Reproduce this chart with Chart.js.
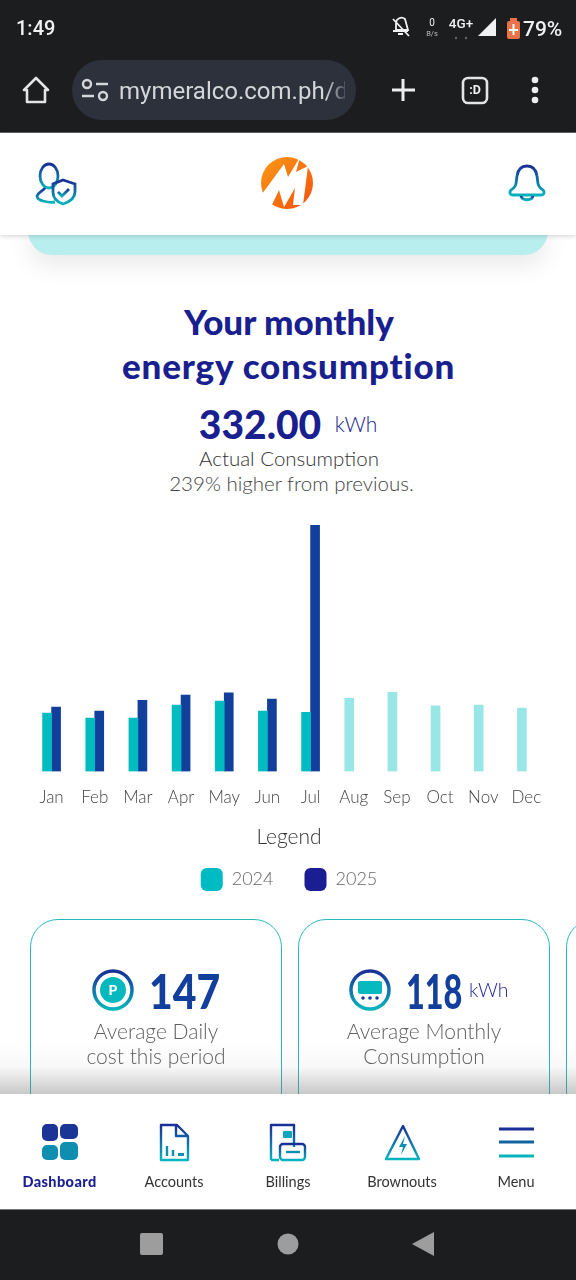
<!DOCTYPE html>
<html>
<head>
<meta charset="utf-8">
<title>Your monthly energy consumption</title>
<script src="https://cdn.jsdelivr.net/npm/chart.js@4"></script>
<style>
html, body { margin: 0; padding: 0; background: #fff; }
body { position: relative; width: 576px; height: 1280px; overflow: hidden; font-family: Lato, sans-serif; }
.box { position: absolute; }
.t { position: absolute; white-space: nowrap; transform: translate(-50%, -50%); line-height: 1; }
.l { position: absolute; white-space: nowrap; transform: translateY(-50%); line-height: 1; }
.sys { font-family: Roboto, sans-serif; color: #f1f1f1; }
svg { position: absolute; overflow: visible; }
#chartWrap { position: absolute; left: 0; top: 510px; width: 576px; height: 391px; }
.navlabel { font-size: 14.5px; color: #333; }
.card { position: absolute; top: 919px; width: 250px; height: 200px; border: 1.5px solid #25b8bd; border-radius: 28px; box-sizing: content-box; }
.big { font-weight: 900; font-size: 47px; color: #123f9b; transform-origin: left center; }
.sub { font-size: 21px; font-weight: 300; color: #5f5f5f; }
</style>
</head>
<body>

<!-- page, under the bars -->
<div class="box" style="left:28px;top:225px;width:520px;height:30px;background:#b9eeee;border-radius:0 0 24px 24px;box-shadow:0 10px 24px rgba(0,0,0,.09)"></div>

<div class="t" style="left:289px;top:320.500px;font-size:35px;font-weight:900;color:#1a1f8f">Your monthly</div>
<div class="t" style="left:288.500px;top:364.500px;font-size:35px;font-weight:900;letter-spacing:.8px;color:#1a1f8f">energy consumption</div>
<div class="t" style="left:260px;top:424px;font-size:39px;font-weight:900;color:#1a1f8f">332.00</div>
<div class="t" style="left:356px;top:423px;font-size:21px;font-weight:300;color:#1a1f8f">kWh</div>
<div class="t" style="left:289px;top:458px;font-size:20.500px;font-weight:300;color:#333">Actual Consumption</div>
<div class="t" style="left:291.500px;top:483px;font-size:20.500px;font-weight:300;color:#444">239% higher from previous.</div>

<div id="chartWrap"><canvas id="myChart"></canvas></div>

<!-- cards -->
<div class="card" style="left:30px"></div>
<div class="card" style="left:298px"></div>
<div class="card" style="left:566px"></div>

<svg style="left:0;top:0" width="576" height="1280">
  <defs>
    <linearGradient id="g" x1="0" y1="0" x2="0" y2="1"><stop offset="0" stop-color="#1a2f96"/><stop offset="1" stop-color="#06b4bd"/></linearGradient>
    <linearGradient id="o" x1="0" y1="0" x2="1" y2="1"><stop offset="0" stop-color="#fa9a16"/><stop offset="1" stop-color="#f4500c"/></linearGradient>
  </defs>
  <circle cx="113" cy="990" r="19" fill="none" stroke="url(#g)" stroke-width="3.500"/>
  <circle cx="113" cy="990" r="13" fill="#06b9be"/>
  <circle cx="370" cy="990" r="19" fill="none" stroke="url(#g)" stroke-width="3.500"/>
  <rect x="358" y="981" width="24" height="13" rx="2" fill="#06b9be"/>
  <circle cx="363" cy="998" r="1.800" fill="#123f9b"/><circle cx="370" cy="998" r="1.800" fill="#123f9b"/><circle cx="377" cy="998" r="1.800" fill="#123f9b"/>
  <text x="113" y="995" font-family="Lato" font-size="14" font-weight="900" fill="#fff" text-anchor="middle">P</text>
</svg>
<div class="l big" style="left:149px;top:991px;transform:translateY(-50%) scaleX(.87)">147</div>
<div class="l big" style="left:406px;top:991px;transform:translateY(-50%) scaleX(.69)">118</div>
<div class="l" style="left:469px;top:990px;font-size:19.500px;font-weight:300;color:#1a1f8f">kWh</div>
<div class="t sub" style="left:156px;top:1030px">Average Daily</div>
<div class="t sub" style="left:156px;top:1055px">cost this period</div>
<div class="t sub" style="left:424px;top:1030px">Average Monthly</div>
<div class="t sub" style="left:424px;top:1055px">Consumption</div>
<div class="box" style="left:0;top:1040px;width:576px;height:54px;background:linear-gradient(rgba(120,120,120,0),rgba(120,120,120,.05) 50%,rgba(110,110,110,.38))"></div>

<!-- bottom nav -->
<div class="box" style="left:0;top:1094px;width:576px;height:115px;background:#fff"></div>

<!-- browser top -->
<div class="box" style="left:0;top:0;width:576px;height:132px;background:#1c1d1f;border-bottom:1.500px solid #666"></div>
<div class="box" style="left:0;top:133px;width:576px;height:102px;background:#fff;box-shadow:0 1px 5px rgba(0,0,0,.18)"></div>
<div class="l sys" style="left:16px;top:28px;font-size:20px;font-weight:500">1:49</div>
<div class="t sys" style="left:432px;top:23px;font-size:10px">0</div>
<div class="t sys" style="left:432px;top:34px;font-size:7.500px;color:#bbb">B/s</div>
<div class="t sys" style="left:461px;top:24px;font-size:13.500px;font-weight:500">4G+</div>
<div class="l sys" style="left:523px;top:29px;font-size:21px;font-weight:500">79%</div>
<div class="box" style="left:72px;top:60px;width:284px;height:60px;border-radius:30px;background:#2c313b"></div>
<div class="l sys" style="left:119px;top:91px;width:226px;overflow:hidden;font-size:24px;line-height:32px;color:#d4d6da">mymeralco.com.ph/d</div>
<div class="box" style="left:325px;top:75px;width:20px;height:32px;background:linear-gradient(90deg,rgba(44,49,59,0),rgba(44,49,59,.8))"></div>
<div class="t sys" style="left:475px;top:90px;font-size:12.500px;font-weight:700">:D</div>

<svg style="left:0;top:0" width="576" height="1280">
  <!-- status icons -->
  <g fill="none" stroke="#f1f1f1" stroke-width="1.800">
    <path d="M396 30v-7a5.500 5.500 0 0 1 9-4l3 11z M393 31h15 M398 34h5 M393 19l16 17"/>
  </g>
  <circle cx="456" cy="38" r="1.200" fill="#666"/><circle cx="466" cy="38" r="1.200" fill="#666"/>
  <path d="M478 36 L496 18 V36 Z" fill="#f1f1f1"/>
  <rect x="507" y="21" width="13" height="18" rx="2" fill="#e8734a"/><rect x="510" y="18" width="7" height="3" fill="#e8734a"/>
  <path d="M513.500 24v11M509 30h9" stroke="#fff" stroke-width="2"/>

  <!-- browser icons -->
  <path d="M36 78 L24 90 H27 V102 H45 V90 H48 Z" fill="none" stroke="#e4e4e4" stroke-width="2.600" stroke-linejoin="round"/>
  <g fill="none" stroke="#d4d6da" stroke-width="2.400">
    <circle cx="87" cy="84" r="4"/><circle cx="103" cy="96" r="4"/>
    <path d="M96 84h12 M82 96h12"/>
  </g>
  <path d="M403 79v22 M392 90h23" stroke="#eee" stroke-width="3"/>
  <rect x="463" y="78" width="24" height="25" rx="5" fill="none" stroke="#e4e4e4" stroke-width="2.600"/>
  <circle cx="535" cy="80" r="3.300" fill="#eee"/><circle cx="535" cy="90" r="3.300" fill="#eee"/><circle cx="535" cy="100" r="3.300" fill="#eee"/>

  <!-- header icons -->
  <g fill="none" stroke="url(#g)" stroke-width="2.800">
    <ellipse cx="49" cy="176" rx="9" ry="12"/>
    <path d="M45 188c-2 3-7 4-8 8c0 5 12 7 18 6"/>
    <path d="M63 180l12 4v8c0 6-6 10-12 12c-6-2-10-6-10-12v-8z"/>
    <path d="M58 192l4 4l7-7"/>
    <path d="M511 190c6-3 5-8 6-14c1-7 5-10 10-10s9 3 10 10c1 6 0 11 6 14c2 2 1 5-2 5h-28c-3 0-4-3-2-5z"/>
    <path d="M521 196c1 5 11 5 12 0"/>
  </g>
  <circle cx="287" cy="183" r="26" fill="url(#o)"/>
  <path d="M262 194 L284 164 L288 177 L300 157 L296 172 L308 166 L303 205 L293 205 L295 188 L284 207 L279 190 L270 209 Z" fill="#fff"/>

  <!-- nav icons -->
  <rect x="42" y="1124" width="16" height="17" rx="5" fill="#1a3596"/><rect x="60" y="1124" width="18" height="15" rx="5" fill="#1a3596"/>
  <rect x="42" y="1145" width="16" height="15" rx="5" fill="#0f8fb0"/><rect x="60" y="1142" width="18" height="18" rx="5" fill="#0f8fb0"/>
  <g fill="none" stroke="url(#g)" stroke-width="2.400" stroke-linejoin="round">
    <path d="M161 1125h16l11 11v24h-27z M176 1125v11h12"/>
    <path d="M271 1160v-35h23v22 M271 1160h8"/>
    <rect x="280" y="1144" width="25" height="16" rx="3"/>
    <path d="M403 1126 L419 1159 H386 Z"/>
  </g>
  <path d="M167 1146v10 M173 1150v6" stroke="#0f8fb0" stroke-width="2.400"/>
  <rect x="178" y="1153" width="6" height="3" fill="#0f8fb0"/>
  <rect x="283" y="1131" width="9" height="7" rx="1" fill="#0fa5ba"/>
  <path d="M286 1152h14" stroke="#0f8fb0" stroke-width="2.400"/>
  <path d="M405 1136 L399 1147 H403 L401 1155 L407 1144 H403 Z" fill="#0f8fb0"/>
  <path d="M499 1129h35" stroke="#1a2f96" stroke-width="3"/>
  <path d="M499 1142h35" stroke="#10649f" stroke-width="3"/>
  <path d="M499 1156h35" stroke="#06b4bd" stroke-width="3"/>
</svg>

<div class="t navlabel" style="left:59.500px;top:1182px;font-weight:900;letter-spacing:.4px;color:#1a1f8f">Dashboard</div>
<div class="t navlabel" style="left:174px;top:1182px">Accounts</div>
<div class="t navlabel" style="left:288px;top:1182px">Billings</div>
<div class="t navlabel" style="left:402px;top:1182px">Brownouts</div>
<div class="t navlabel" style="left:516px;top:1182px">Menu</div>

<div class="box" style="left:0;top:1209px;width:576px;height:71px;background:#1c1d1f;border-top:1.500px solid #777;box-sizing:border-box"></div>
<svg style="left:0;top:0" width="576" height="1280">
  <rect x="140" y="1233" width="23" height="22" rx="2" fill="#9d9d9d"/>
  <circle cx="288" cy="1244" r="10.500" fill="#9d9d9d"/>
  <path d="M434 1232 V1256 L412 1244 Z" fill="#9d9d9d"/>
</svg>

<script>
const months = ['Jan', 'Feb', 'Mar', 'Apr', 'May', 'Jun', 'Jul', 'Aug', 'Sep', 'Oct', 'Nov', 'Dec'];
const values2024 = [78.6, 71.8, 71.8, 89.4, 94.9, 81.3, 79.5, 98.5, 106.6, 88.5, 89.4, 85.4];
const values2025 = [86.7, 81.3, 95.8, 103, 105.7, 97.6, 332, null, null, null, null, null];
const yearLabels = ['2024', '2025'];

// months after this one have no 2025 reading yet, 2024 gets a lighter colour there
const monthsWithReading = 7;

const ctx = document.getElementById('myChart').getContext('2d');

const myChart = new Chart(ctx, {
    type: 'bar',
    data: {
        labels: months,
        datasets: [{
            label: yearLabels[0],
            data: values2024,
            backgroundColor: (c) => c.dataIndex < monthsWithReading ? '#00bcc0' : '#99e6e6'
        }, {
            label: yearLabels[1],
            data: values2025,
            backgroundColor: '#123f9b'
        }]
    },
    options: {
        responsive: true,
        maintainAspectRatio: false,
        animation: false,
        barThickness: 9,
        layout: { padding: { left: 30, right: 28, top: 15, bottom: 0 } },
        scales: {
            x: {
                grid: { display: false },
                border: { display: false },
                ticks: {
                    autoSkip: false,
                    maxRotation: 0,
                    padding: 8,
                    color: '#444',
                    font: { family: 'Lato', size: 17, weight: 300 }
                }
            },
            y: { display: false, min: 0, max: 332 }
        },
        plugins: {
            tooltip: { enabled: false },
            legend: {
                display: true,
                position: 'bottom',
                title: {
                    display: true,
                    text: 'Legend',
                    color: '#333',
                    padding: { top: 11, bottom: -15 },
                    font: { family: 'Lato', size: 21, weight: 300 }
                },
                labels: {
                    boxWidth: 22,
                    boxHeight: 23,
                    padding: 31,
                    color: '#666',
                    useBorderRadius: true,
                    borderRadius: 6,
                    font: { family: 'Lato', size: 18, weight: 300 },
                    generateLabels: () => [
                        { text: yearLabels[0], fillStyle: '#00bcc2', strokeStyle: '#00bcc2', lineWidth: 0, fontColor: '#666', borderRadius: 6, datasetIndex: 0 },
                        { text: yearLabels[1], fillStyle: '#1b1e92', strokeStyle: '#1b1e92', lineWidth: 0, fontColor: '#666', borderRadius: 6, datasetIndex: 1 }
                    ]
                }
            }
        }
    }
});
</script>
</body>
</html>
